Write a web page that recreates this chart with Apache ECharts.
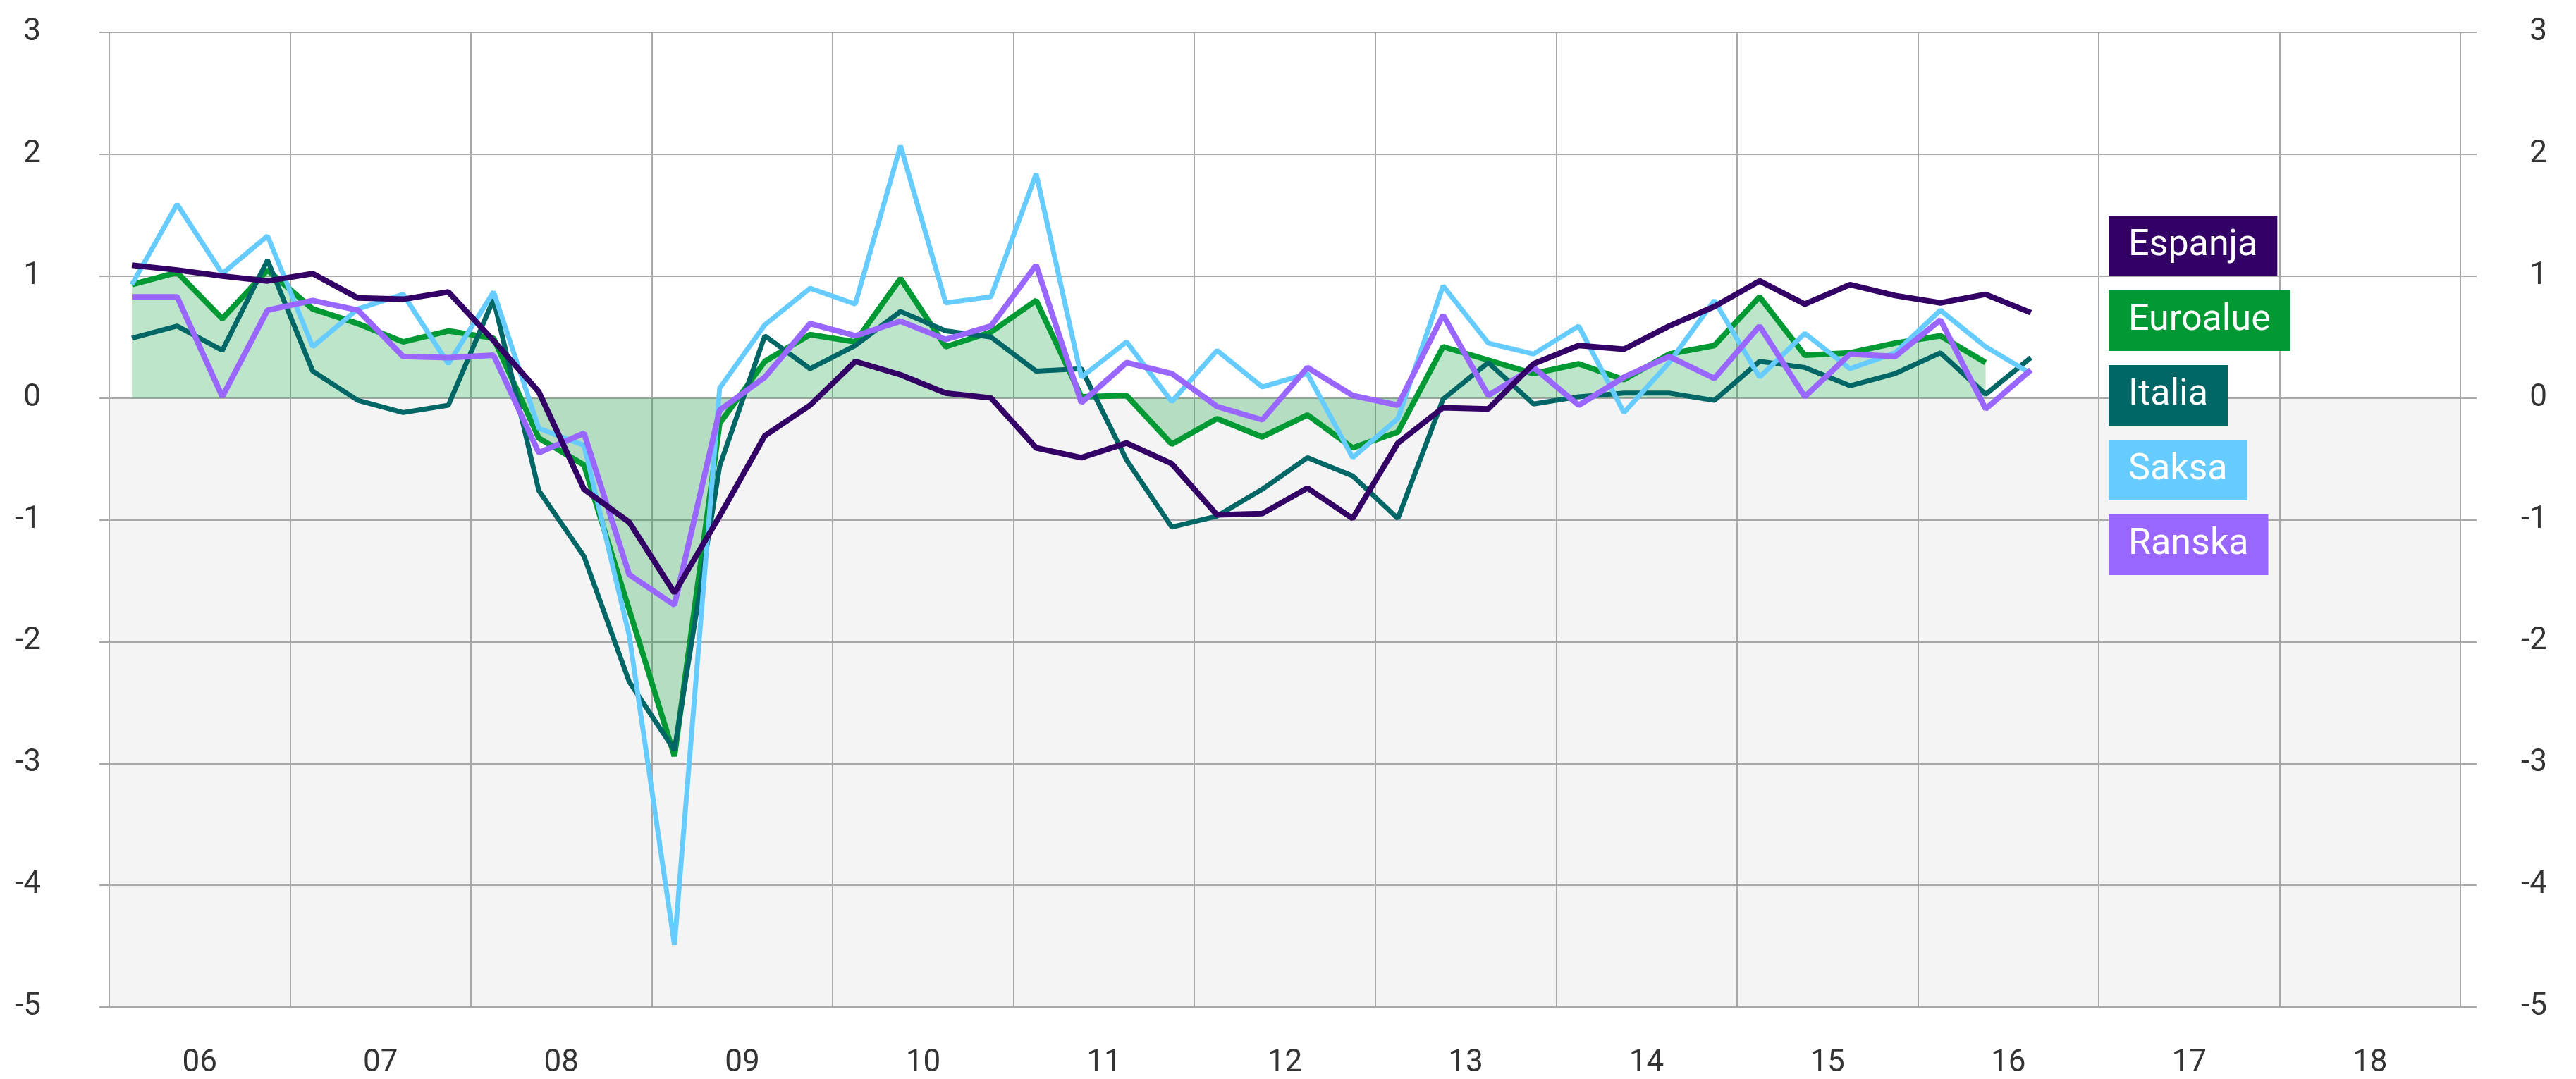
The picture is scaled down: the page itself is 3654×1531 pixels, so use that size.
<!DOCTYPE html>
<html>
<head>
<meta charset="utf-8">
<title>Chart</title>
<script src="https://cdn.jsdelivr.net/npm/echarts@6/dist/echarts.min.js"></script>
<style>
    html, body { margin: 0; padding: 0; background: #fff; }
    #chart { width: 3654px; height: 1531px; }
</style>
</head>
<body>
<div id="chart"></div>
<script>
// vuodet x-akselilla
const years = ['06', '07', '08', '09', '10', '11', '12', '13', '14', '15', '16', '17', '18'];
const yTicks = [-5, -4, -3, -2, -1, 0, 1, 2, 3];

// neljännesvuosiarvot 2006Q1 alkaen
const espanja = [1.09, 1.05, 1.00, 0.96, 1.02, 0.82, 0.81, 0.87, 0.47, 0.05, -0.75, -1.02, -1.60, -0.97, -0.31, -0.06,
    0.30, 0.19, 0.04, 0.00, -0.41, -0.49, -0.37, -0.54, -0.96, -0.95, -0.74, -0.99, -0.37, -0.08, -0.09, 0.28,
    0.43, 0.40, 0.59, 0.75, 0.96, 0.77, 0.93, 0.84, 0.78, 0.85, 0.70];
const euroalue = [0.93, 1.03, 0.65, 1.05, 0.73, 0.61, 0.46, 0.55, 0.49, -0.33, -0.55, -1.74, -2.94, -0.21, 0.30, 0.52,
    0.46, 0.98, 0.42, 0.54, 0.80, 0.01, 0.02, -0.38, -0.17, -0.32, -0.14, -0.41, -0.28, 0.42, 0.31, 0.20,
    0.28, 0.15, 0.36, 0.43, 0.83, 0.35, 0.37, 0.45, 0.51, 0.29];
const italia = [0.49, 0.59, 0.39, 1.13, 0.22, -0.02, -0.12, -0.06, 0.81, -0.76, -1.30, -2.33, -2.89, -0.56, 0.51, 0.24,
    0.43, 0.71, 0.55, 0.50, 0.22, 0.24, -0.51, -1.06, -0.97, -0.75, -0.49, -0.64, -0.99, -0.01, 0.29, -0.05,
    0.01, 0.04, 0.04, -0.02, 0.30, 0.25, 0.10, 0.20, 0.37, 0.03, 0.33];
const saksa = [0.93, 1.59, 1.02, 1.33, 0.42, 0.73, 0.85, 0.28, 0.87, -0.25, -0.39, -1.95, -4.49, 0.08, 0.60, 0.90,
    0.77, 2.07, 0.78, 0.83, 1.84, 0.17, 0.46, -0.03, 0.39, 0.09, 0.20, -0.49, -0.17, 0.92, 0.45, 0.36,
    0.59, -0.12, 0.29, 0.80, 0.17, 0.53, 0.24, 0.37, 0.72, 0.42, 0.20];
const ranska = [0.83, 0.83, 0.01, 0.72, 0.80, 0.72, 0.34, 0.33, 0.35, -0.45, -0.29, -1.45, -1.70, -0.10, 0.17, 0.61,
    0.51, 0.63, 0.48, 0.59, 1.09, -0.04, 0.29, 0.20, -0.07, -0.18, 0.25, 0.02, -0.06, 0.68, 0.02, 0.25,
    -0.06, 0.17, 0.34, 0.16, 0.59, 0.01, 0.36, 0.34, 0.64, -0.09, 0.23];

const quarters = [];
years.forEach(y => {
    ['Q1', 'Q2', 'Q3', 'Q4'].forEach(q => quarters.push(y + q));
});

const colors = {
    Espanja: '#330066',
    Euroalue: '#009933',
    Italia: '#006666',
    Saksa: '#66ccff',
    Ranska: '#9966ff'
};

const gridColor = '#a8a8a8';
const labelFont = { fontFamily: 'Roboto', fontSize: 44, color: '#333333' };

// alle nollan harmaa tausta
const areaColors = yTicks.slice(0, -1).map(v => v < 0 ? '#f4f4f4' : '#ffffff');

function legendItem(name) {
    return {
        name: name,
        textStyle: {
            color: '#ffffff',
            backgroundColor: colors[name],
            padding: [17, 28, 17, 28],
            fontSize: 52,
            lineHeight: 52,
            fontFamily: 'Roboto'
        }
    };
}

function lineSeries(name, data, width) {
    return {
        name: name,
        type: 'line',
        data: data,
        symbol: 'none',
        xAxisIndex: 0,
        yAxisIndex: 0,
        lineStyle: { color: colors[name], width: width },
        itemStyle: { color: colors[name] }
    };
}

const chart = echarts.init(document.getElementById('chart'));

const euroSeries = lineSeries('Euroalue', euroalue, 8);
euroSeries.areaStyle = { color: colors.Euroalue, opacity: 0.26 };

const option = {
    animation: false,
    backgroundColor: '#ffffff',
    grid: { left: 155, right: 164, top: 46, bottom: 98, containLabel: false },
    legend: {
        orient: 'vertical',
        left: 2981,
        top: 301,
        itemGap: 20,
        itemWidth: 0,
        itemHeight: 0,
        icon: 'rect',
        selectedMode: false,
        data: ['Espanja', 'Euroalue', 'Italia', 'Saksa', 'Ranska'].map(legendItem)
    },
    xAxis: [
        {
            type: 'category',
            data: quarters,
            boundaryGap: true,
            show: false
        },
        {
            type: 'category',
            data: years,
            position: 'bottom',
            boundaryGap: true,
            axisLine: { show: false },
            axisTick: { show: false },
            axisLabel: Object.assign({ margin: 58 }, labelFont),
            splitLine: { show: true, lineStyle: { color: gridColor, width: 2 } }
        }
    ],
    yAxis: [
        {
            type: 'value',
            min: -5,
            max: 3,
            interval: 1,
            position: 'left',
            axisLine: { show: false },
            axisTick: { show: true, length: 14, lineStyle: { color: gridColor, width: 2 } },
            axisLabel: Object.assign({ margin: 97, align: 'right' }, labelFont),
            splitLine: { show: true, lineStyle: { color: gridColor, width: 2 } },
            splitArea: { show: true, areaStyle: { color: areaColors } }
        },
        {
            type: 'value',
            min: -5,
            max: 3,
            interval: 1,
            position: 'right',
            axisLine: { show: false },
            axisTick: { show: true, length: 23, lineStyle: { color: gridColor, width: 2 } },
            axisLabel: Object.assign({ margin: 123, align: 'right' }, labelFont),
            splitLine: { show: false }
        }
    ],
    series: [
        euroSeries,
        lineSeries('Italia', italia, 7),
        lineSeries('Saksa', saksa, 7),
        lineSeries('Ranska', ranska, 8),
        lineSeries('Espanja', espanja, 8)
    ]
};

chart.setOption(option);
</script>
</body>
</html>
